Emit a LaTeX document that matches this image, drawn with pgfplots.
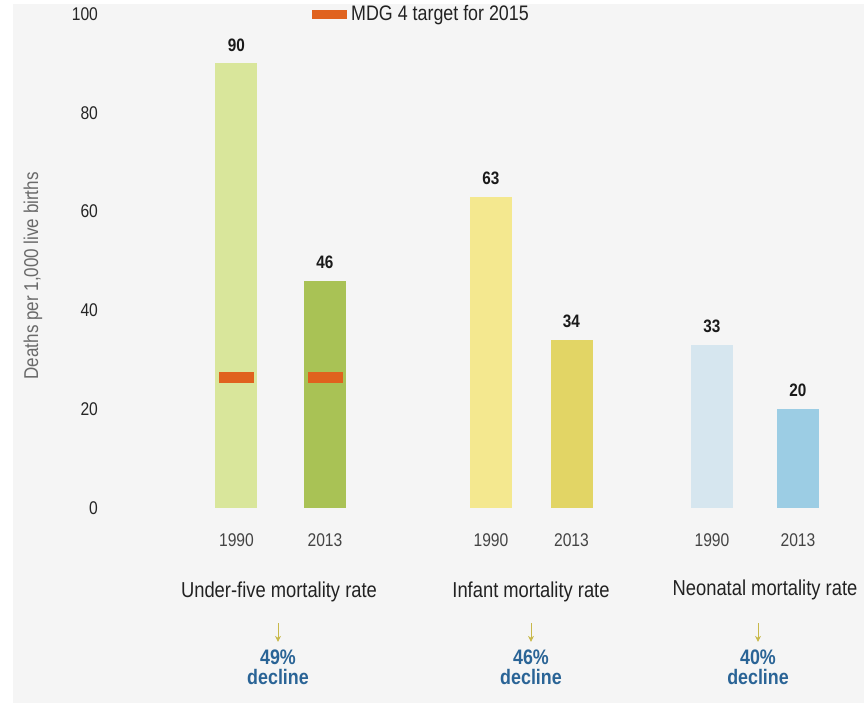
\documentclass[border=0pt]{standalone}
\usepackage{pgfplots}
\pgfplotsset{compat=1.18}
\usetikzlibrary{arrows.meta}
\usepackage{fontspec}
\setmainfont{Liberation Sans}[FakeStretch=0.85]
\definecolor{bg}{HTML}{F5F5F5}
\definecolor{cA}{HTML}{D9E69B}
\definecolor{cB}{HTML}{A9C255}
\definecolor{cC}{HTML}{F4E88F}
\definecolor{cD}{HTML}{E2D565}
\definecolor{cE}{HTML}{D6E6EF}
\definecolor{cF}{HTML}{9CCDE4}
\definecolor{mdg}{HTML}{E0621E}
\definecolor{tickc}{HTML}{252525}
\definecolor{yearc}{HTML}{444444}
\definecolor{catc}{HTML}{222222}
\definecolor{ylc}{HTML}{6A6A6A}
\definecolor{valc}{HTML}{1A1A1A}
\definecolor{declc}{HTML}{2A6496}
\definecolor{arrc}{HTML}{C8B84A}
\begin{document}
\begin{tikzpicture}
\useasboundingbox (0,0) rectangle (432pt,353.5pt);
\fill[bg] (6.5pt,2pt) rectangle (432pt,351.5pt);
\begin{axis}[
 at={(52.5pt,99.5pt)}, anchor=south west,
 scale only axis, width=379.5pt, height=247pt,
 xmin=105, xmax=864, ymin=0, ymax=100,
 axis line style={draw=none}, major tick length=0pt, tick style={draw=none},
 ytick={0,20,...,100},
 xtick={236.5,325,491,571.5,712,798},
 xticklabels={1990,2013,1990,2013,1990,2013},
 yticklabel style={font=\fontsize{9.2}{10}\selectfont, text=tickc},
 xticklabel style={font=\fontsize{9.2}{10}\selectfont, text=yearc, yshift=-9.3pt},
 /pgf/number format/assume math mode=true,
 clip=false,
 legend style={at={(axis cs:306,100)}, anchor=west, draw=none, fill=none,
   font=\fontsize{10.5}{12}\selectfont, text=catc},
 legend image code/.code={\fill[mdg] (0pt,-2pt) rectangle (17pt,2pt);},
 bar width=21pt,
 every node near coord/.append style={font=\bfseries\fontsize{9}{10}\selectfont, text=valc, yshift=2.5pt},
]
\addplot[ybar, bar shift=0pt, fill=cA, draw=none, nodes near coords, forget plot] coordinates {(236.5,90)};
\addplot[ybar, bar shift=0pt, fill=cB, draw=none, nodes near coords, forget plot] coordinates {(325,46)};
\addplot[ybar, bar shift=0pt, fill=cC, draw=none, nodes near coords, forget plot] coordinates {(491,63)};
\addplot[ybar, bar shift=0pt, fill=cD, draw=none, nodes near coords, forget plot] coordinates {(571.5,34)};
\addplot[ybar, bar shift=0pt, fill=cE, draw=none, nodes near coords, forget plot] coordinates {(712,33)};
\addplot[ybar, bar shift=0pt, fill=cF, draw=none, nodes near coords, forget plot] coordinates {(798,20)};
\addplot[only marks, mark=-, mark size=8.75pt, mark options={line width=5.5pt, draw=mdg}] coordinates {(236.5,26.5) (325,26.5)};
\addlegendentry{MDG 4 target for 2015}
\node[rotate=90, font=\fontsize{10}{10}\selectfont, text=ylc] at (axis cs:33,47) {Deaths per 1,000 live births};
\node[font=\fontsize{10.8}{12}\selectfont, text=catc] at (axis cs:279,-17) {Under-five mortality rate};
\node[font=\fontsize{10.8}{12}\selectfont, text=catc] at (axis cs:531,-17) {Infant mortality rate};
\node[font=\fontsize{10.8}{12}\selectfont, text=catc] at (axis cs:765,-16.5) {Neonatal mortality rate};
\draw[arrc, -{Stealth[length=3pt,width=3pt]}] (axis cs:278,-23.3) -- (axis cs:278,-27.1);
\draw[arrc, -{Stealth[length=3pt,width=3pt]}] (axis cs:531,-23.3) -- (axis cs:531,-27.1);
\draw[arrc, -{Stealth[length=3pt,width=3pt]}] (axis cs:758,-23.3) -- (axis cs:758,-27.1);
\node[align=center, font=\bfseries\fontsize{10.5}{10}\selectfont, text=declc] at (axis cs:278,-32.2) {49\%\\decline};
\node[align=center, font=\bfseries\fontsize{10.5}{10}\selectfont, text=declc] at (axis cs:531,-32.2) {46\%\\decline};
\node[align=center, font=\bfseries\fontsize{10.5}{10}\selectfont, text=declc] at (axis cs:758,-32.2) {40\%\\decline};
\end{axis}
\end{tikzpicture}
\end{document}
